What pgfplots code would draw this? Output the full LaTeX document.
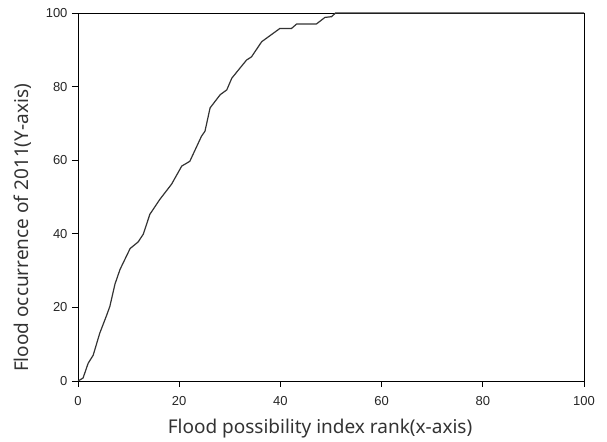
\documentclass[border=0pt]{standalone}
\usepackage{pgfplots}
\pgfplotsset{compat=1.18}
\usepackage{fontspec}
\setmainfont{Liberation Sans}
\newfontfamily\labfont{Noto Sans}
\begin{document}
\begin{tikzpicture}[x=1pt,y=1pt]
\begin{axis}[
  name=ax,
  scale only axis,
  width=506pt, height=368pt,
  xmin=0, xmax=100, ymin=0, ymax=100,
  xtick={0,20,...,100}, ytick={0,20,...,100},
  tick align=outside,
  xtick pos=bottom, ytick pos=left,
  major tick length=6pt,
  tick style={black, line width=0.8pt},
  axis line style={black, line width=0.8pt},
  ticklabel style={font=\fontsize{13}{15}\selectfont, text=black!85},
  xticklabel style={yshift=-6pt},
  yticklabel style={xshift=-1pt},
  /pgf/number format/assume math mode=true,
  xlabel={Flood possibility index rank(x-axis)},
  ylabel={Flood occurrence of 2011(Y-axis)},
  label style={font=\labfont\fontsize{19}{21}\selectfont, text=black!80},
  xlabel style={at={(axis description cs:0.5,0)}, anchor=center, xshift=-11pt, yshift=-48pt},
  ylabel style={at={(axis description cs:0,0.5)}, anchor=center, xshift=-31pt, yshift=55pt},
]
\addplot[black!80, line width=1.2pt] coordinates {
(0,0)(1,0.8)(2,4.8)(3,7)(4.3,13)(5.7,18)(6.3,20.3)(7.3,26.3)(8.3,30.3)
(10.3,36)(11.9,37.8)(12.9,39.9)(14.2,45.3)(16.2,49.4)(18.5,53.5)(20.5,58.4)
(22.1,59.7)(24.4,66.5)(25.1,67.9)(26.1,74.2)(28.1,77.8)(29.4,79.1)(30.4,82.3)
(31.7,84.5)(33.3,87.2)(34.3,88.1)(36.3,92.2)(39.9,95.8)(42.2,95.8)(43.2,97)
(47.1,97)(48.8,98.8)(50.1,99)(50.9,100)(100,100)
};
\end{axis}
\path[use as bounding box] ([shift={(-78pt,-59pt)}]ax.south west) rectangle ([shift={(23pt,13pt)}]ax.north east);
\end{tikzpicture}
\end{document}
